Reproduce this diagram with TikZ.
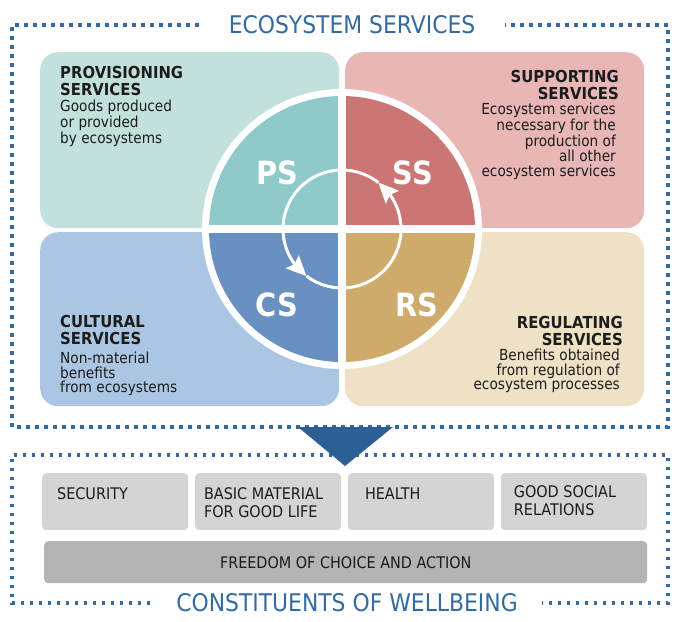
\documentclass[tikz,border=0pt]{standalone}
\usepackage{fontspec}
\setmainfont{DejaVu Sans}[FakeStretch=0.9]
\usepackage{xcolor}
\usetikzlibrary{positioning, arrows.meta, bending}

\definecolor{esblue}{RGB}{52,106,160}
\definecolor{esdark}{RGB}{44,95,150}
\definecolor{inktext}{RGB}{28,28,28}
\definecolor{provlight}{RGB}{195,225,220}
\definecolor{supplight}{RGB}{232,182,181}
\definecolor{cultlight}{RGB}{171,198,227}
\definecolor{regulight}{RGB}{238,225,197}
\definecolor{pscol}{RGB}{143,201,201}
\definecolor{sscol}{RGB}{204,117,117}
\definecolor{cscol}{RGB}{104,145,193}
\definecolor{rscol}{RGB}{207,171,107}
\definecolor{lifegray}{RGB}{212,212,212}
\definecolor{freegray}{RGB}{180,180,180}

\tikzstyle{quadbox} = [rectangle, rounded corners=18pt, minimum width=299pt, minimum height=176pt, anchor=north west, inner sep=0pt]
\tikzstyle{headtext} = [inner sep=0pt, text=inktext, font=\bfseries\fontsize{16.5}{17}\selectfont]
\tikzstyle{bodytext} = [inner sep=0pt, text=inktext, font=\fontsize{15.2}{14.6}\selectfont]
\tikzstyle{quadlabel} = [inner sep=0pt, text=white, font=\bfseries\fontsize{32}{36}\selectfont]
\tikzstyle{titletext} = [inner sep=0pt, text=esblue, font=\fontsize{24.3}{28}\selectfont]
\tikzstyle{lifebox} = [rectangle, rounded corners=4pt, fill=lifegray, minimum width=146pt, minimum height=57pt, inner sep=0pt]
\tikzstyle{lifetext} = [inner sep=0pt, text=inktext, align=left, font=\fontsize{16}{18.5}\selectfont]
\tikzstyle{dotline} = [draw=esblue, line width=3.3pt, dash pattern=on 3.3pt off 5.7pt]
\tikzstyle{cyclearrow} = [draw=white, line width=3pt, -{Stealth[length=20pt,width=18pt,inset=3pt]}]

\begin{document}
\begin{tikzpicture}[x=1pt, y=-1pt, node distance=6pt]
\useasboundingbox (0,0) rectangle (674,621);

% upper frame
\node (estitle) [titletext] at (352,25) {ECOSYSTEM SERVICES};
\draw [dotline] ([xshift=-30pt]estitle.west) -- (12,25) -- (12,427) -- (668,427) -- (668,25) -- ([xshift=30pt]estitle.east);

% four service boxes
\node (provbox) [quadbox, fill=provlight] at (40,52) {};
\node (suppbox) [quadbox, fill=supplight] at (345,52) {};
\node (cultbox) [quadbox, fill=cultlight, minimum height=174pt] at (40,232) {};
\node (regubox) [quadbox, fill=regulight, minimum height=174pt] at (345,232) {};

% wheel
\coordinate (hub) at (342,229);
\fill [white] (hub) circle [radius=140];
\fill [pscol] (hub) -- ++(180:133) arc [start angle=180, end angle=270, radius=133] -- cycle;
\fill [sscol] (hub) -- ++(270:133) arc [start angle=270, end angle=360, radius=133] -- cycle;
\fill [rscol] (hub) -- ++(0:133) arc [start angle=0, end angle=90, radius=133] -- cycle;
\fill [cscol] (hub) -- ++(90:133) arc [start angle=90, end angle=180, radius=133] -- cycle;
\draw [white, line width=8pt] (hub) ++(-136,0) -- ++(272,0);
\draw [white, line width=8pt] (hub) ++(0,-136) -- ++(0,272);
\draw [cyclearrow] (hub) ++(127:59) arc [start angle=127, end angle=-52, radius=59];
\draw [cyclearrow] (hub) ++(-52:59) arc [start angle=-52, end angle=-233, radius=59];

\node (ps) [quadlabel] at (277,173) {PS};
\node (ss) [quadlabel] at (413,173) {SS};
\node (cs) [quadlabel] at (277,305) {CS};
\node (rs) [quadlabel] at (417,305) {RS};

% box texts
\node (provhead) [headtext, align=left, anchor=north west] at (60,66) {PROVISIONING\\SERVICES};
\node (provtext) [bodytext, align=left, below right=4pt and 0pt of provhead.south west] {Goods produced\\or provided\\by ecosystems};

\node (supphead) [headtext, align=right, anchor=north east] at (619,70) {SUPPORTING\\SERVICES};
\node (supptext) [bodytext, align=right, below left=3pt and 3pt of supphead.south east] {Ecosystem services\\necessary for the\\production of\\all other\\ecosystem services};

\node (culthead) [headtext, align=left, anchor=north west] at (60,315) {CULTURAL\\SERVICES};
\node (culttext) [bodytext, align=left, below right=7pt and 0pt of culthead.south west] {Non-material\\benefits\\from ecosystems};

\node (reguhead) [headtext, align=right, anchor=north east] at (623,316) {REGULATING\\SERVICES};
\node (regutext) [bodytext, align=right, below left=3pt and 3pt of reguhead.south east] {Benefits obtained\\from regulation of\\ecosystem processes};

% lower frame
\node (cwtitle) [titletext] at (347,603) {CONSTITUENTS OF WELLBEING};
\draw [dotline] ([xshift=-26pt]cwtitle.west) -- (12,603) -- (12,455) -- (668,455) -- (668,603) -- ([xshift=24pt]cwtitle.east);
\fill [esdark] (298,427) -- (393,427) -- (345,466) -- cycle;

\node (secbox) [lifebox, anchor=north west] at (42,473) {};
\node (basicbox) [lifebox, right=6.5pt of secbox] {};
\node (healthbox) [lifebox, right=6.5pt of basicbox] {};
\node (socialbox) [lifebox, right=6.5pt of healthbox] {};
\node (freebox) [lifebox, fill=freegray, minimum width=603pt, minimum height=42pt, anchor=north west] at (44,541) {};

\node (seclbl) [lifetext, anchor=north west] at ([shift={(15,14)}]secbox.north west) {SECURITY};
\node (basiclbl) [lifetext, anchor=north west] at ([shift={(9,14)}]basicbox.north west) {BASIC MATERIAL\\FOR GOOD LIFE};
\node (healthlbl) [lifetext, anchor=north west] at ([shift={(17,15)}]healthbox.north west) {HEALTH};
\node (sociallbl) [lifetext, anchor=north west] at ([shift={(13,12)}]socialbox.north west) {GOOD SOCIAL\\RELATIONS};
\node (freelbl) [lifetext] at (freebox) {FREEDOM OF CHOICE AND ACTION};
\end{tikzpicture}
\end{document}
